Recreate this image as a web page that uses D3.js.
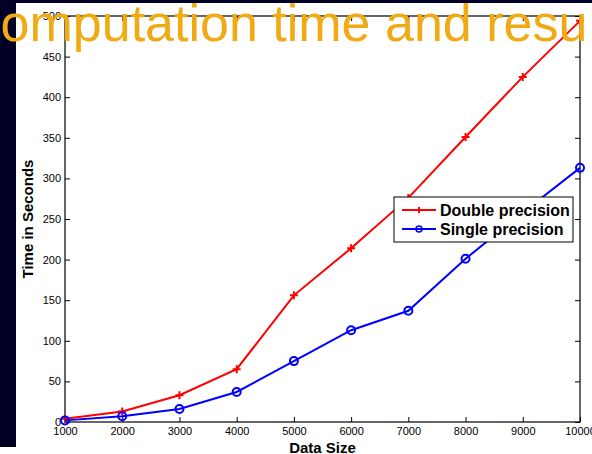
<!DOCTYPE html>
<html>
<head>
<meta charset="utf-8">
<script src="https://cdn.jsdelivr.net/npm/d3@7"></script>
<style>
  body { margin: 0; background: #ffffff; }
  svg { display: block; font-family: "Liberation Sans", Arial, sans-serif; }
</style>
</head>
<body>
<svg id="chart" width="592" height="454"></svg>
<script>
const dataSizes = [1000, 2000, 3000, 4000, 5000, 6000, 7000, 8000, 9000, 10000];
const doublePrecision = [4, 13, 33, 65, 156, 214, 276, 351, 425, 494];
const singlePrecision = [2, 7, 16, 37, 75, 113, 137, 201, 258, 313];
const xTicks = [1000, 2000, 3000, 4000, 5000, 6000, 7000, 8000, 9000, 10000];
const yTicks = [0, 50, 100, 150, 200, 250, 300, 350, 400, 450, 500];

const svg = d3.select('#chart');
const width = +svg.attr('width');
const height = +svg.attr('height');
const margin = { top: 16, right: 12, bottom: 32, left: 65 };

// dark slide background around the figure
svg.append('rect').attr('x', 0).attr('y', 0).attr('width', width).attr('height', 3).attr('fill', '#000026');
svg.append('rect').attr('x', 0).attr('y', 0).attr('width', 16).attr('height', 447).attr('fill', '#000026');

const x = d3.scaleLinear()
  .domain([1000, 10000])
  .range([margin.left, width - margin.right]);

const y = d3.scaleLinear()
  .domain([0, 500])
  .range([height - margin.bottom, margin.top]);

const axisStyle = g => {
  g.select('.domain').remove();
  g.selectAll('.tick line').attr('stroke', '#000');
  g.selectAll('.tick text').attr('fill', '#000').style('font-size', '11px');
};

svg.append('g')
  .attr('transform', `translate(0,${y(0)})`)
  .call(d3.axisBottom(x).tickValues(xTicks).tickSizeInner(-5).tickSizeOuter(0).tickPadding(5).tickFormat(d3.format('d')))
  .call(axisStyle);

svg.append('g')
  .attr('transform', `translate(0,${y(500)})`)
  .call(d3.axisTop(x).tickValues(xTicks).tickSizeInner(-5).tickSizeOuter(0).tickFormat(''))
  .call(axisStyle);

svg.append('g')
  .attr('transform', `translate(${x(1000)},0)`)
  .call(d3.axisLeft(y).tickValues(yTicks).tickSizeInner(-5).tickSizeOuter(0).tickPadding(4))
  .call(axisStyle);

svg.append('g')
  .attr('transform', `translate(${x(10000)},0)`)
  .call(d3.axisRight(y).tickValues(yTicks).tickSizeInner(-5).tickSizeOuter(0).tickFormat(''))
  .call(axisStyle);

svg.append('rect')
  .attr('x', x(1000)).attr('y', y(500))
  .attr('width', x(10000) - x(1000)).attr('height', y(0) - y(500))
  .attr('fill', 'none').attr('stroke', '#000').attr('stroke-width', 1.2);

const series = [
  { name: 'Double precision', values: doublePrecision, color: '#ff0000', marker: 'plus' },
  { name: 'Single precision', values: singlePrecision, color: '#0000ff', marker: 'circle' }
];

const line = d3.line()
  .x((d, i) => x(dataSizes[i]))
  .y(d => y(d));

function drawMarker(g, type, color) {
  if (type === 'plus') {
    g.append('path').attr('d', 'M-4,0H4M0,-4V4').attr('stroke', color).attr('stroke-width', 2).attr('fill', 'none');
  } else {
    g.append('circle').attr('r', 4).attr('stroke', color).attr('stroke-width', 2).attr('fill', 'none');
  }
}

series.forEach(s => {
  svg.append('path')
    .datum(s.values)
    .attr('fill', 'none')
    .attr('stroke', s.color)
    .attr('stroke-width', 2)
    .attr('d', line);

  s.values.forEach((v, i) => {
    const g = svg.append('g').attr('transform', `translate(${x(dataSizes[i])},${y(v)})`);
    drawMarker(g, s.marker, s.color);
  });
});

// legend
const legend = svg.append('g').attr('transform', 'translate(394,197)');
legend.append('rect')
  .attr('width', 179).attr('height', 45)
  .attr('fill', '#fff').attr('stroke', '#000').attr('stroke-width', 1);

series.forEach((s, i) => {
  const row = legend.append('g').attr('transform', `translate(0,${13 + i * 19})`);
  row.append('line').attr('x1', 8).attr('x2', 42).attr('stroke', s.color).attr('stroke-width', 2);
  const m = row.append('g').attr('transform', 'translate(25,0)');
  if (s.marker === 'plus') {
    m.append('path').attr('d', 'M-3,0H3M0,-3V3').attr('stroke', s.color).attr('stroke-width', 2);
  } else {
    m.append('circle').attr('r', 3).attr('stroke', s.color).attr('stroke-width', 1.5).attr('fill', 'none');
  }
  row.append('text')
    .attr('x', 46).attr('y', 5.5)
    .style('font-size', '16px').style('font-weight', 'bold')
    .text(s.name);
});

// axis titles
svg.append('text')
  .attr('x', (x(1000) + x(10000)) / 2).attr('y', 453)
  .attr('text-anchor', 'middle')
  .style('font-size', '15px').style('font-weight', 'bold')
  .text('Data Size');

svg.append('text')
  .attr('transform', `translate(33,${(y(0) + y(500)) / 2}) rotate(-90)`)
  .attr('text-anchor', 'middle')
  .style('font-size', '15px').style('font-weight', 'bold')
  .text('Time in Seconds');

// slide title, partially cut off
svg.append('clipPath').attr('id', 'titleClip')
  .append('rect').attr('x', 0).attr('y', 0).attr('width', 585).attr('height', 60);

svg.append('text')
  .attr('clip-path', 'url(#titleClip)')
  .attr('x', -37).attr('y', 41)
  .attr('fill', '#f0aa14')
  .style('font-size', '52px')
  .text('Computation time and results');
</script>
</body>
</html>
